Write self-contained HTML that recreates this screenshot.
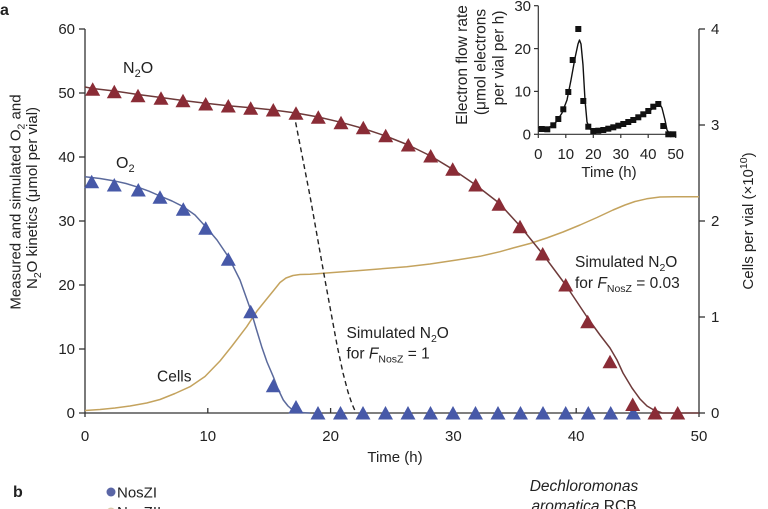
<!DOCTYPE html>
<html><head><meta charset="utf-8"><style>
html,body{margin:0;padding:0;background:#fff;}
svg{display:block;}
text{font-family:"Liberation Sans",Arial,sans-serif;fill:#222;}
</style></head><body>
<svg width="768" height="509" viewBox="0 0 768 509" xmlns="http://www.w3.org/2000/svg">
<rect width="768" height="509" fill="#fff"/>

<!-- panel label -->
<text x="0" y="15" font-size="16" font-weight="bold">a</text>

<!-- main axes -->
<g stroke="#333" stroke-width="1.3" fill="none">
  <line x1="85" y1="29" x2="85" y2="417"/>
  <line x1="79" y1="413" x2="699" y2="413"/>
  <line x1="699" y1="29" x2="699" y2="417"/>
  <!-- left ticks -->
  <line x1="79" y1="29" x2="85" y2="29"/>
  <line x1="79" y1="93" x2="85" y2="93"/>
  <line x1="79" y1="157" x2="85" y2="157"/>
  <line x1="79" y1="221" x2="85" y2="221"/>
  <line x1="79" y1="285" x2="85" y2="285"/>
  <line x1="79" y1="349" x2="85" y2="349"/>
  <!-- right ticks -->
  <line x1="699" y1="29" x2="705" y2="29"/>
  <line x1="699" y1="125" x2="705" y2="125"/>
  <line x1="699" y1="221" x2="705" y2="221"/>
  <line x1="699" y1="317" x2="705" y2="317"/>
  <line x1="699" y1="413" x2="705" y2="413"/>
  <!-- x ticks (inward) -->
  <line x1="207.8" y1="408" x2="207.8" y2="413"/>
  <line x1="330.6" y1="408" x2="330.6" y2="413"/>
  <line x1="453.4" y1="408" x2="453.4" y2="413"/>
  <line x1="576.2" y1="408" x2="576.2" y2="413"/>
</g>

<!-- left tick labels -->
<g font-size="15" text-anchor="end">
  <text x="75" y="34">60</text>
  <text x="75" y="98">50</text>
  <text x="75" y="162">40</text>
  <text x="75" y="226">30</text>
  <text x="75" y="290">20</text>
  <text x="75" y="354">10</text>
  <text x="75" y="418">0</text>
</g>
<!-- right tick labels -->
<g font-size="15">
  <text x="711" y="34">4</text>
  <text x="711" y="130">3</text>
  <text x="711" y="226">2</text>
  <text x="711" y="322">1</text>
  <text x="711" y="418">0</text>
</g>
<!-- x tick labels -->
<g font-size="15" text-anchor="middle">
  <text x="85" y="441">0</text>
  <text x="207.8" y="441">10</text>
  <text x="330.6" y="441">20</text>
  <text x="453.4" y="441">30</text>
  <text x="576.2" y="441">40</text>
  <text x="699" y="441">50</text>
</g>
<text x="395" y="462" font-size="15" text-anchor="middle">Time (h)</text>

<!-- y axis title -->
<text transform="translate(20.5,202) rotate(-90)" font-size="15" text-anchor="middle">Measured and simulated O<tspan font-size="10.5" dy="4">2</tspan><tspan dy="-4"> and</tspan></text>
<text transform="translate(37,198) rotate(-90)" font-size="15" text-anchor="middle">N<tspan font-size="10.5" dy="4">2</tspan><tspan dy="-4">O kinetics (μmol per vial)</tspan></text>

<!-- right axis title -->
<text transform="translate(753,221) rotate(-90)" font-size="15" text-anchor="middle">Cells per vial (×10<tspan font-size="10.5" dy="-6">10</tspan><tspan dy="6">)</tspan></text>

<!-- Cells curve -->
<polyline fill="none" stroke="#c4a35e" stroke-width="1.5" stroke-linejoin="round" points="85,410.5 100,409.5 115,408 130,406 146.7,403 160,399.5 175,393.5 190,386.7 205,376.5 220,361 232,346 246.7,326.7 257,311 266.7,299 274,290 280,282.5 286,278 293,275.5 300,274.5 310,274.2 330,272.8 360,270.5 406.7,266.7 430,264 456.7,260 480,256.3 500,251.7 513,248 530,243.5 546.7,238 563,232 580,225 597,217.5 613,210 625,205 635,201.5 646.7,198.8 660,197 675,196.7 699,196.7"/>

<!-- O2 curve -->
<polyline fill="none" stroke="#5b6a9c" stroke-width="1.5" stroke-linejoin="round" points="85,176.7 100,178.5 113.3,180.7 126,183.5 138.3,187.3 149,191.2 160,196 172,201 183.3,206.7 195,215 205.7,226.7 217,240 228.3,256.7 240,280 250.7,310 256,328 261.7,346.7 267,362 273.3,376.7 278,389 283.3,400 288,406 293.3,410.7 300,412.5 310,413"/>

<!-- N2O curve -->
<polyline fill="none" stroke="#6e3a3a" stroke-width="1.5" stroke-linejoin="round" points="85,87 92.7,88.5 114.3,91 138,94.5 161,97.5 183,100.5 205.7,103.3 228.3,105.7 250.7,107.7 273.3,110 296,113 318.3,117 341,122.3 363.3,128.5 385.7,136 408.3,145 430.7,156 452.7,169.3 475.7,185 499,203 520,226 542.7,254 565.7,285 587.7,318 600,335 610,348 617,360 623,373 632,388 640,399 647,406 653,409.5 662,413 699,413"/>

<!-- dashed simulated line -->
<polyline fill="none" stroke="#222" stroke-width="1.4" stroke-dasharray="5,3.5" points="294,114 310,196 325,280 337,345 343,373 348,392 352,404 356,413"/>

<!-- O2 triangles (blue) -->
<g fill="#4759a8">
  <polygon points="91.7,174.7 84.2,188.2 99.2,188.2"/>
  <polygon points="114.3,178 106.8,191.5 121.8,191.5"/>
  <polygon points="138.3,183 130.8,196.5 145.8,196.5"/>
  <polygon points="160,190.3 152.5,203.8 167.5,203.8"/>
  <polygon points="183.3,202.3 175.8,215.8 190.8,215.8"/>
  <polygon points="205.7,221.3 198.2,234.8 213.2,234.8"/>
  <polygon points="228.3,252.3 220.8,265.8 235.8,265.8"/>
  <polygon points="250.7,304.7 243.2,318.2 258.2,318.2"/>
  <polygon points="273.3,378.7 265.8,392.2 280.8,392.2"/>
  <polygon points="296,400 288.5,413.5 303.5,413.5"/>
  <polygon points="318,406 310.5,419.5 325.5,419.5"/>
  <polygon points="340.5,406 333,419.5 348,419.5"/>
  <polygon points="363,406 355.5,419.5 370.5,419.5"/>
  <polygon points="385.5,406 378,419.5 393,419.5"/>
  <polygon points="408,406 400.5,419.5 415.5,419.5"/>
  <polygon points="430.5,406 423,419.5 438,419.5"/>
  <polygon points="453,406 445.5,419.5 460.5,419.5"/>
  <polygon points="475.5,406 468,419.5 483,419.5"/>
  <polygon points="498,406 490.5,419.5 505.5,419.5"/>
  <polygon points="520.5,406 513,419.5 528,419.5"/>
  <polygon points="543,406 535.5,419.5 550.5,419.5"/>
  <polygon points="565.7,406 558.2,419.5 573.2,419.5"/>
  <polygon points="588.3,406 580.8,419.5 595.8,419.5"/>
  <polygon points="610.7,406 603.2,419.5 618.2,419.5"/>
  <polygon points="633.3,406 625.8,419.5 640.8,419.5"/>
</g>

<!-- N2O triangles (red) -->
<g fill="#8a2c36">
  <polygon points="92.7,82.3 85.2,95.8 100.2,95.8"/>
  <polygon points="114.3,84.7 106.8,98.2 121.8,98.2"/>
  <polygon points="138,88.7 130.5,102.2 145.5,102.2"/>
  <polygon points="161,91.3 153.5,104.8 168.5,104.8"/>
  <polygon points="183,93.7 175.5,107.2 190.5,107.2"/>
  <polygon points="205.7,97 198.2,110.5 213.2,110.5"/>
  <polygon points="228.3,99 220.8,112.5 235.8,112.5"/>
  <polygon points="250.7,101.3 243.2,114.8 258.2,114.8"/>
  <polygon points="273.3,103 265.8,116.5 280.8,116.5"/>
  <polygon points="296,106.3 288.5,119.8 303.5,119.8"/>
  <polygon points="318.3,110.3 310.8,123.8 325.8,123.8"/>
  <polygon points="341,115.7 333.5,129.2 348.5,129.2"/>
  <polygon points="363.3,120.7 355.8,134.2 370.8,134.2"/>
  <polygon points="385.7,128.7 378.2,142.2 393.2,142.2"/>
  <polygon points="408.3,138 400.8,151.5 415.8,151.5"/>
  <polygon points="430.7,149 423.2,162.5 438.2,162.5"/>
  <polygon points="452.7,162.3 445.2,175.8 460.2,175.8"/>
  <polygon points="475.7,178 468.2,191.5 483.2,191.5"/>
  <polygon points="499,197.3 491.5,210.8 506.5,210.8"/>
  <polygon points="520,219.7 512.5,233.2 527.5,233.2"/>
  <polygon points="542.7,247 535.2,260.5 550.2,260.5"/>
  <polygon points="565.7,278 558.2,291.5 573.2,291.5"/>
  <polygon points="587.7,314.7 580.2,328.2 595.2,328.2"/>
  <polygon points="610,354.7 602.5,368.2 617.5,368.2"/>
  <polygon points="632.7,397.5 625.2,411 640.2,411"/>
  <polygon points="655,406 647.5,419.5 662.5,419.5"/>
  <polygon points="677.7,406 670.2,419.5 685.2,419.5"/>
</g>

<!-- series labels -->
<text x="123" y="73" font-size="16">N<tspan font-size="11" dy="4">2</tspan><tspan dy="-4">O</tspan></text>
<text x="116" y="168" font-size="16">O<tspan font-size="11" dy="4">2</tspan></text>
<text x="157" y="381.5" font-size="15.5">Cells</text>

<text x="346.5" y="338" font-size="15.5">Simulated N<tspan font-size="10.5" dy="4">2</tspan><tspan dy="-4">O</tspan></text>
<text x="346.5" y="358.5" font-size="15.5">for <tspan font-style="italic">F</tspan><tspan font-size="10.5" dy="4">NosZ</tspan><tspan dy="-4"> = 1</tspan></text>

<text x="575" y="267" font-size="15.5">Simulated N<tspan font-size="10.5" dy="4">2</tspan><tspan dy="-4">O</tspan></text>
<text x="575" y="288" font-size="15.5">for <tspan font-style="italic">F</tspan><tspan font-size="10.5" dy="4">NosZ</tspan><tspan dy="-4"> = 0.03</tspan></text>

<!-- Inset -->
<rect x="440" y="0" width="250" height="182" fill="#fff" opacity="0"/>
<g stroke="#333" stroke-width="1.2" fill="none">
  <line x1="538.3" y1="5.7" x2="538.3" y2="134.3"/>
  <line x1="538.3" y1="134.3" x2="675.7" y2="134.3"/>
  <line x1="534" y1="5.7" x2="538.3" y2="5.7"/>
  <line x1="534" y1="48.6" x2="538.3" y2="48.6"/>
  <line x1="534" y1="91.4" x2="538.3" y2="91.4"/>
  <line x1="534" y1="134.3" x2="538.3" y2="134.3"/>
  <line x1="538.3" y1="134.3" x2="538.3" y2="138"/>
  <line x1="565.8" y1="134.3" x2="565.8" y2="138"/>
  <line x1="593.3" y1="134.3" x2="593.3" y2="138"/>
  <line x1="620.8" y1="134.3" x2="620.8" y2="138"/>
  <line x1="648.2" y1="134.3" x2="648.2" y2="138"/>
  <line x1="675.7" y1="134.3" x2="675.7" y2="138"/>
</g>
<g font-size="15" text-anchor="end">
  <text x="531" y="11">30</text>
  <text x="531" y="54">20</text>
  <text x="531" y="96.5">10</text>
  <text x="531" y="139.5">0</text>
</g>
<g font-size="15" text-anchor="middle">
  <text x="538.3" y="159">0</text>
  <text x="565.8" y="159">10</text>
  <text x="593.3" y="159">20</text>
  <text x="620.8" y="159">30</text>
  <text x="648.2" y="159">40</text>
  <text x="675.7" y="159">50</text>
</g>
<text x="609" y="177" font-size="15" text-anchor="middle">Time (h)</text>
<text transform="translate(467,65) rotate(-90)" font-size="15.5" text-anchor="middle">Electron flow rate</text>
<text transform="translate(485.5,62) rotate(-90)" font-size="15.5" text-anchor="middle">(μmol electrons</text>
<text transform="translate(503.5,58) rotate(-90)" font-size="15.5" text-anchor="middle">per vial per h)</text>

<polyline fill="none" stroke="#111" stroke-width="1.4" stroke-linejoin="round" points="538.3,127.7 547,128 552,126 557,121 562,113 567,100 571,80 575,58 578,44 579.5,40 581,44 583,65 585,100 587,122 590,129 595,131.7 605,130.5 615,128 625,124.5 635,120 645,114 652,109 659.3,103.3 662,108 665,120 667,130 670,134.3 675,134.3"/>
<g fill="#111">
  <rect x="538.7" y="126" width="6" height="6"/>
  <rect x="544.3" y="126.3" width="6" height="6"/>
  <rect x="550.3" y="122.3" width="6" height="6"/>
  <rect x="555.3" y="116" width="6" height="6"/>
  <rect x="560.3" y="106.3" width="6" height="6"/>
  <rect x="565.3" y="89" width="6" height="6"/>
  <rect x="569.7" y="57" width="6" height="6"/>
  <rect x="575.3" y="26" width="6" height="6"/>
  <rect x="580.3" y="98" width="6" height="6"/>
  <rect x="585.3" y="123.7" width="6" height="6"/>
  <rect x="590.3" y="128" width="6" height="6"/>
  <rect x="595.3" y="127.7" width="6" height="6"/>
  <rect x="600.3" y="127" width="6" height="6"/>
  <rect x="605.3" y="125.7" width="6" height="6"/>
  <rect x="610.3" y="124.3" width="6" height="6"/>
  <rect x="615.3" y="122.7" width="6" height="6"/>
  <rect x="620.3" y="121" width="6" height="6"/>
  <rect x="625.3" y="119" width="6" height="6"/>
  <rect x="630.3" y="117" width="6" height="6"/>
  <rect x="635.3" y="114.3" width="6" height="6"/>
  <rect x="640.3" y="111.3" width="6" height="6"/>
  <rect x="645.3" y="108" width="6" height="6"/>
  <rect x="650.3" y="103.7" width="6" height="6"/>
  <rect x="655.3" y="101" width="6" height="6"/>
  <rect x="660.3" y="123" width="6" height="6"/>
  <rect x="665.3" y="131.3" width="6" height="6"/>
  <rect x="670.3" y="131.3" width="6" height="6"/>
</g>

<!-- panel b (partial) -->
<text x="13" y="497" font-size="16" font-weight="bold">b</text>
<circle cx="111" cy="492" r="4.5" fill="#5a66a6"/>
<text x="117" y="497.5" font-size="15">NosZI</text>
<circle cx="111" cy="512" r="4.5" fill="#d8cfae"/>
<text x="117" y="517" font-size="15" fill="#999">NosZII</text>
<text x="584" y="491" font-size="15.5" font-style="italic" text-anchor="middle">Dechloromonas</text>
<text x="584" y="511" font-size="15.5" text-anchor="middle"><tspan font-style="italic">aromatica</tspan> RCB</text>
</svg>
</body></html>
